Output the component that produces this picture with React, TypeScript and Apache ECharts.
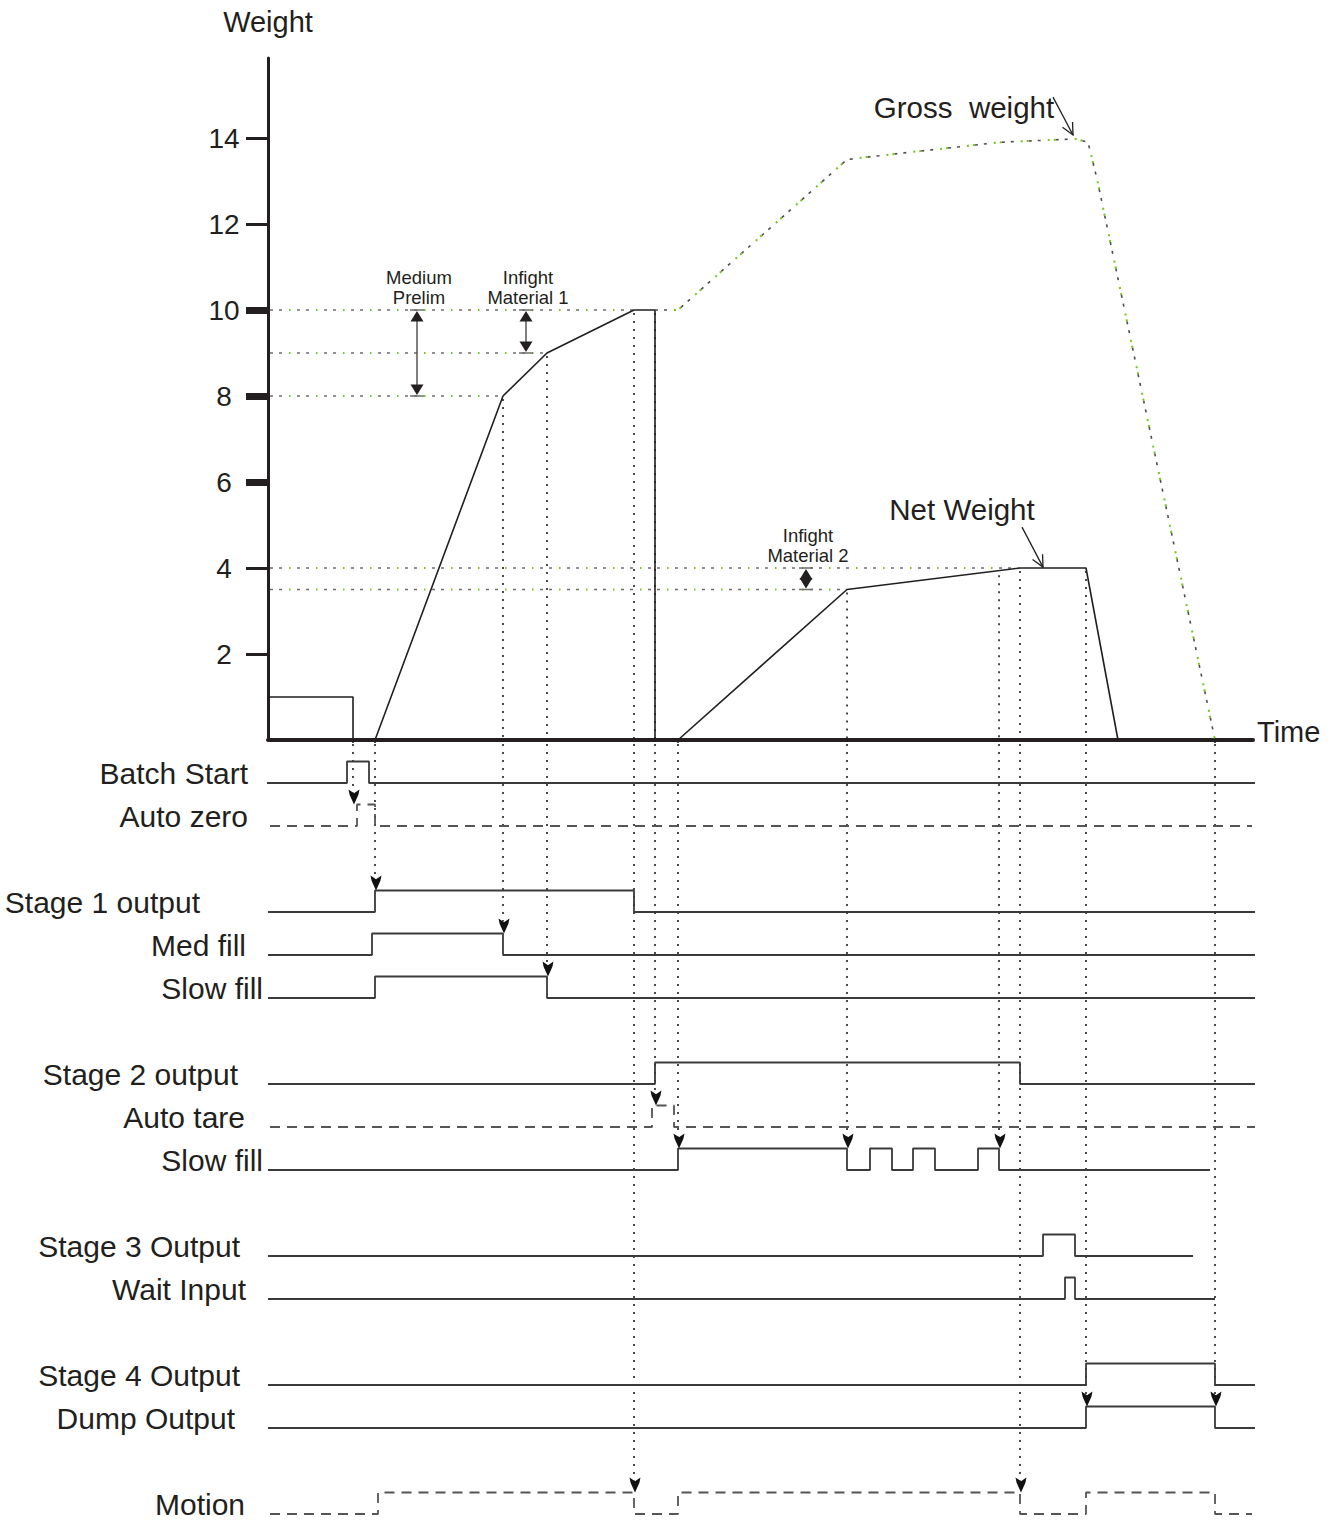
import React, { useEffect, useRef } from 'react';
import * as echarts from 'echarts';

const FONT = "'Liberation Sans', Arial, Helvetica, sans-serif";
const INK = '#231f20';

// ---------- weight axis ----------
const weightLabels = [2, 4, 6, 8, 10, 12, 14];
const thinTicks = [2, 4, 12, 14];
const thickTicks = [6, 8, 10];

// ---------- weight curves: [time, weight] ----------
const tareWeight = [[0, 1], [85, 1], [85, 0]];
const material1Net = [[107, 0], [235, 8], [279, 9], [366, 10], [387, 10], [387, 0]];
const material2Net = [[410, 0], [579, 3.5], [752, 4], [818, 4], [850, 0]];
const grossWeight = [
  [387, 10], [410, 10], [579, 13.5], [642, 13.67], [689, 13.79], [732, 13.9],
  [807, 13.98], [820, 13.9], [829, 13.05], [947, 0],
];

// set point reference lines: [weight, end time]
const setpoints = [[10, 366], [9, 279], [8, 235], [4, 752], [3.5, 579]];

// double-headed span markers: [time, upper weight, lower weight]
const spanValues = [[149, 10, 8], [258, 10, 9], [538, 4, 3.5]];
const spanLabels = ['Medium\nPrelim', 'Infight\nMaterial 1', 'Infight\nMaterial 2'];

// callouts: [fromT, fromW, toT, toW, labelT, labelW]
const calloutValues = [
  [785, 14.95, 805, 14.07, 696, 14.72],
  [754, 4.95, 775, 4.02, 694, 5.37],
];
const calloutLabels = ['Gross  weight', 'Net Weight'];

// ---------- digital signals ----------
const signalNames = [
  'Batch Start', 'Auto zero', 'Stage 1 output', 'Med fill', 'Slow fill',
  'Stage 2 output', 'Auto tare', 'Slow fill', 'Stage 3 Output', 'Wait Input',
  'Stage 4 Output', 'Dump Output', 'Motion',
];
// switching times (signal starts low, toggles at each time)
const signalEdges = [
  [79, 101],
  [89, 107],
  [107, 366],
  [104, 235],
  [107, 279],
  [387, 752],
  [384, 406],
  [410, 579, 602, 624, 645, 667, 710, 731],
  [775, 807],
  [797, 807],
  [818, 947],
  [818, 947],
  [110, 366, 410, 752, 818, 947],
];
const signalSpan = [
  [-6, 990], [2, 984], [0, 990], [0, 990], [0, 990], [0, 990], [2, 990],
  [0, 942], [0, 925], [0, 947], [0, 990], [0, 990], [2, 984],
];
const dashedSignals = [1, 6, 12];

// trigger guides: [time, weight where guide starts, index of signal it triggers]
const guides = [
  [85, 0, 1], [107, 0, 2], [235, 8, 3], [279, 9, 4], [366, 10, 12], [387, 10, 6],
  [410, 0, 7], [579, 3.5, 7], [731, 3.9, 7], [752, 4, 12], [818, 4, 11], [947, 0, 11],
];

// ---------- layout ----------
const UNIT = 43; // px per weight unit / per signal row
const LEFT = 268;
const TOP0 = 58;
const H0 = 682;
const TOP1 = 740;
const H1 = 780;
const XMAX = 985;
const signalRow = [1, 2, 4, 5, 6, 8, 9, 10, 12, 13, 15, 16, 18];
const labelRight = [248, 248, 200, 246, 263, 238, 245, 263, 240, 246, 240, 235, 245];

const CHEVRON = 'path://M0,0 L5,3.5 L10,0 L9,5 L5,14 L1,5 Z';

function toSteps(edges: number[], span: number[], row: number) {
  const pts: number[][] = [[span[0], 0]];
  let lvl = 0;
  edges.forEach((t) => {
    pts.push([t, lvl]);
    lvl = 1 - lvl;
    pts.push([t, lvl]);
  });
  pts.push([span[1], lvl]);
  return pts.map(([t, l]) => [t, row - 0.5 * l]);
}

export default function App() {
  const ref = useRef<HTMLDivElement>(null);

  useEffect(() => {
    if (!ref.current) return;
    const chart = echarts.init(ref.current, undefined, { renderer: 'svg' });

    const netStyle = { color: INK, width: 1.6 };
    const lineBase = {
      type: 'line' as const,
      showSymbol: false,
      symbol: 'none',
      xAxisIndex: 0,
      yAxisIndex: 0,
      clip: false,
      silent: true,
    };

    const series: any[] = [
      { ...lineBase, name: 'Net weight', data: tareWeight, lineStyle: netStyle },
      { ...lineBase, name: 'Net weight', data: material1Net, lineStyle: netStyle },
      { ...lineBase, name: 'Net weight', data: material2Net, lineStyle: netStyle },
      {
        ...lineBase, name: 'Gross weight', data: grossWeight,
        lineStyle: { color: '#4d4d4d', width: 1.6, type: [3, 6, 3, 15] },
      },
      {
        ...lineBase, name: 'Gross weight', data: grossWeight,
        lineStyle: { color: '#7cc21e', width: 2, type: [2, 4, 2, 19], dashOffset: 8 },
      },
      {
        type: 'custom', name: 'setpoints', xAxisIndex: 0, yAxisIndex: 0, clip: false, silent: true,
        data: setpoints.map((s) => [s[1], s[0]]),
        renderItem: (_p: any, api: any) => {
          const te = api.value(0);
          const w = api.value(1);
          const a = api.coord([0, w]);
          const b = api.coord([te, w]);
          const shape = { x1: a[0] + 2, y1: a[1], x2: b[0], y2: b[1] };
          return {
            type: 'group',
            children: [
              { type: 'line', shape, style: { stroke: '#6d6d6d', lineWidth: 1.5, lineDash: [3, 6, 3, 15] } },
              { type: 'line', shape, style: { stroke: '#7cc21e', lineWidth: 1.8, lineDash: [1.5, 25.5], lineDashOffset: 8 } },
            ],
          };
        },
      },
      {
        type: 'custom', name: 'guides-upper', xAxisIndex: 0, yAxisIndex: 0, clip: false, silent: true,
        data: guides.map((g) => [g[0], g[1]]),
        renderItem: (_p: any, api: any) => {
          const a = api.coord([api.value(0), api.value(1)]);
          const b = api.coord([api.value(0), 0]);
          return {
            type: 'line',
            shape: { x1: a[0], y1: a[1] + 3, x2: b[0], y2: b[1] },
            style: { stroke: INK, lineWidth: 1.6, lineDash: [2, 6] },
          };
        },
      },
      {
        type: 'custom', name: 'guides-lower', xAxisIndex: 1, yAxisIndex: 2, clip: false, silent: true,
        data: guides.map((g) => [g[0], signalRow[g[2]] - 0.5]),
        renderItem: (_p: any, api: any) => {
          const a = api.coord([api.value(0), 0]);
          const b = api.coord([api.value(0), api.value(1)]);
          return {
            type: 'line',
            shape: { x1: a[0], y1: a[1] + 4, x2: b[0], y2: b[1] - 12 },
            style: { stroke: INK, lineWidth: 1.6, lineDash: [2, 6] },
          };
        },
      },
      {
        type: 'custom', name: 'spans', xAxisIndex: 0, yAxisIndex: 0, clip: false, silent: true,
        data: spanValues,
        renderItem: (p: any, api: any) => {
          const t = api.value(0);
          const top = api.coord([t, api.value(1)]);
          const bot = api.coord([t, api.value(2)]);
          const x = top[0];
          const capStyle = { stroke: '#6d6d6d', lineWidth: 1.5 };
          return {
            type: 'group',
            children: [
              { type: 'line', shape: { x1: x, y1: top[1] + 4, x2: x, y2: bot[1] - 4 }, style: { stroke: '#555', lineWidth: 1.5 } },
              { type: 'line', shape: { x1: x - 7, y1: top[1], x2: x + 7, y2: top[1] }, style: capStyle },
              { type: 'line', shape: { x1: x - 7, y1: bot[1], x2: x + 7, y2: bot[1] }, style: capStyle },
              { type: 'polygon', shape: { points: [[x, top[1] + 1], [x - 6.5, top[1] + 11.5], [x + 6.5, top[1] + 11.5]] }, style: { fill: INK } },
              { type: 'polygon', shape: { points: [[x, bot[1] - 1], [x - 6.5, bot[1] - 11.5], [x + 6.5, bot[1] - 11.5]] }, style: { fill: INK } },
              {
                type: 'text', x: x + 2, y: top[1] - 3,
                style: {
                  text: spanLabels[p.dataIndex], fill: INK, fontSize: 18.5, fontFamily: FONT,
                  align: 'center', verticalAlign: 'bottom', lineHeight: 20,
                },
              },
            ],
          };
        },
      },
      {
        type: 'custom', name: 'callouts', xAxisIndex: 0, yAxisIndex: 0, clip: false, silent: true,
        data: calloutValues,
        renderItem: (p: any, api: any) => {
          const a = api.coord([api.value(0), api.value(1)]);
          const b = api.coord([api.value(2), api.value(3)]);
          const c = api.coord([api.value(4), api.value(5)]);
          const dx = b[0] - a[0];
          const dy = b[1] - a[1];
          const len = Math.sqrt(dx * dx + dy * dy);
          const ux = dx / len;
          const uy = dy / len;
          const arm = (ang: number) => {
            const cs = Math.cos(ang);
            const sn = Math.sin(ang);
            const rx = ux * cs - uy * sn;
            const ry = ux * sn + uy * cs;
            return [b[0] - 13 * rx, b[1] - 13 * ry];
          };
          const l = arm(0.45);
          const r = arm(-0.45);
          return {
            type: 'group',
            children: [
              { type: 'line', shape: { x1: a[0], y1: a[1], x2: b[0], y2: b[1] }, style: { stroke: INK, lineWidth: 1.3 } },
              { type: 'polyline', shape: { points: [l, b, r] }, style: { stroke: INK, lineWidth: 1.3, fill: null } },
              {
                type: 'text', x: c[0], y: c[1],
                style: {
                  text: calloutLabels[p.dataIndex], fill: INK, fontSize: 29.5, fontFamily: FONT,
                  align: 'center', verticalAlign: 'middle',
                },
              },
            ],
          };
        },
      },
    ];

    signalNames.forEach((name, i) => {
      const dashed = dashedSignals.includes(i);
      series.push({
        type: 'line',
        name,
        xAxisIndex: 1,
        yAxisIndex: 2,
        showSymbol: false,
        symbol: 'none',
        clip: false,
        silent: true,
        data: toSteps(signalEdges[i], signalSpan[i], signalRow[i]),
        lineStyle: dashed
          ? { color: '#555', width: 1.8, type: [10, 7] }
          : { color: '#3a3a3a', width: 1.8 },
      });
    });

    series.push({
      type: 'scatter',
      name: 'triggers',
      xAxisIndex: 1,
      yAxisIndex: 2,
      clip: false,
      silent: true,
      z: 5,
      symbol: CHEVRON,
      symbolSize: [11, 15],
      symbolOffset: [0, -7.5],
      itemStyle: { color: '#111', opacity: 1 },
      data: guides.map((g) => [g[0] + 1, signalRow[g[2]] - 0.5]),
    });

    const graphics = signalNames.map((name, i) => ({
      type: 'text',
      x: labelRight[i],
      y: TOP1 + UNIT * signalRow[i] - 10,
      style: {
        text: name, fill: INK, fontSize: 30, fontFamily: FONT,
        align: 'right', verticalAlign: 'middle',
      },
    }));

    chart.setOption({
      animation: false,
      backgroundColor: '#ffffff',
      textStyle: { fontFamily: FONT, color: INK },
      grid: [
        { left: LEFT, top: TOP0, width: XMAX, height: H0, containLabel: false },
        { left: LEFT, top: TOP1, width: XMAX, height: H1, containLabel: false },
      ],
      xAxis: [
        {
          type: 'value', gridIndex: 0, min: 0, max: XMAX,
          name: 'Time', nameLocation: 'end', nameGap: 4,
          nameTextStyle: {
            fontSize: 29, color: INK, fontFamily: FONT, verticalAlign: 'bottom', lineHeight: 16,
          },
          axisLine: { show: true, lineStyle: { color: INK, width: 4 } },
          axisTick: { show: false },
          axisLabel: { show: false },
          splitLine: { show: false },
        },
        { type: 'value', gridIndex: 1, min: 0, max: XMAX, show: false },
      ],
      yAxis: [
        {
          type: 'value', gridIndex: 0, min: 0, max: H0 / UNIT, position: 'left',
          name: 'Weight', nameLocation: 'end', nameGap: 22,
          nameTextStyle: { fontSize: 29, color: INK, fontFamily: FONT, align: 'center' },
          axisLine: { show: true, onZero: false, lineStyle: { color: INK, width: 3 } },
          axisTick: { show: true, customValues: thinTicks, length: 22, lineStyle: { color: INK, width: 3 } },
          axisLabel: {
            show: true, customValues: weightLabels, fontSize: 28, color: INK, fontFamily: FONT,
            align: 'center', margin: 44,
          },
          splitLine: { show: false },
        },
        {
          type: 'value', gridIndex: 0, min: 0, max: H0 / UNIT, position: 'left', offset: 0,
          axisLine: { show: false },
          axisTick: { show: true, customValues: thickTicks, length: 22, lineStyle: { color: INK, width: 7 } },
          axisLabel: { show: false },
          splitLine: { show: false },
        },
        { type: 'value', gridIndex: 1, min: 0, max: H1 / UNIT, inverse: true, show: false },
      ],
      graphic: graphics,
      series,
    });

    return () => chart.dispose();
  }, []);

  return (
    <div
      ref={ref}
      style={{ position: 'absolute', left: 0, top: 0, width: 1338, height: 1520, background: '#fff' }}
    />
  );
}
